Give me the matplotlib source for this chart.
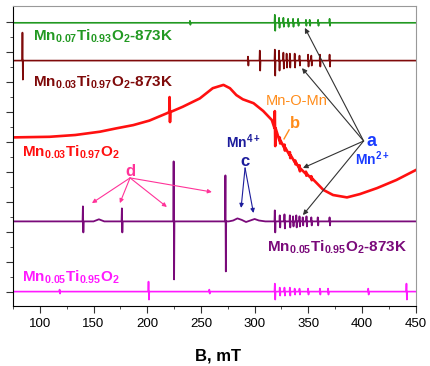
import numpy as np
import matplotlib
matplotlib.use('Agg')
import matplotlib.pyplot as plt

plt.rcParams['font.family'] = 'Liberation Sans'
plt.rcParams['mathtext.fontset'] = 'custom'
plt.rcParams['mathtext.rm'] = 'Liberation Sans'
plt.rcParams['mathtext.bf'] = 'Liberation Sans:bold'

# field range, mT
B_range = [75, 450]

# baselines of the flat spectra (arb. units, offset)
green_base = 9.44
darkred_base = 8.18
purple_base = 2.82
magenta_base = 0.48

# broad signal of Mn0.03Ti0.97O2
red_B = [75, 109, 133, 156, 171, 187, 202, 218, 233, 249, 261, 271, 277, 283, 289,
         299, 308, 316, 324, 333, 342, 355, 364, 373, 386, 398, 414, 432, 450]
red_I = [5.62, 5.64, 5.70, 5.81, 5.92, 6.03, 6.18, 6.42, 6.64, 6.92, 7.26, 7.37, 7.26, 7.03, 6.89,
         6.76, 6.50, 6.20, 5.48, 5.03, 4.59, 4.20, 3.87, 3.70, 3.62, 3.73, 3.93, 4.20, 4.53]

# small broad wiggles (c, Mn4+) on the purple trace
purple_B = [75, 150, 155, 160, 276, 280, 284, 288, 292, 296, 300, 304, 310, 450]
purple_dI = [0, 0, 0.07, 0, 0, 0.03, 0.10, 0.05, -0.02, 0.03, 0.08, 0.03, 0, 0]

# sharp lines: (field mT, up, down) in pixels of the original
green_lines = [(240, 2, 2), (319, 8, 8), (323, 5, 5), (327, 5, 4), (331.4, 4, 4), (336, 4, 4),
               (340.7, 4, 3), (348, 3, 3), (351.5, 3, 3), (359.3, 3, 3), (370, 4, 3)]
darkred_lines = [(84, 28, 19), (294, 4, 5), (305, 10, 10), (319, 11, 15), (323, 10, 10), (327, 8, 8),
                 (330, 7, 7), (333, 7, 7), (337.5, 7, 7), (342, 5, 5), (350, 6, 6), (353, 5, 5),
                 (361, 6, 6), (370, 6, 6)]
red_lines = [(221, 15, 10), (319, 17, 18), (323.6, 3, 3), (328, 3, 3), (333, 3, 3), (338, 2, 2),
             (342, 3, 3), (348, 2, 2), (353, 2, 2)]
purple_lines = [(140.3, 15, 11), (176.6, 13, 11), (224.8, 60, 58), (273, 46, 50), (319, 11, 11),
                (323.6, 6, 6), (328, 7, 7), (333, 6, 6), (336, 5, 5), (339, 6, 6), (342, 5, 5),
                (345, 4, 4), (348.5, 5, 5), (353, 4, 4), (359, 4, 4), (370, 4, 4)]
magenta_lines = [(118.6, 2, 2), (201.4, 10, 8), (258, 2, 2), (319, 8, 8), (323.6, 4, 4), (328, 4, 4),
                 (333, 4, 4), (337.5, 3, 3), (342, 3, 3), (350, 3, 3), (361, 3, 3), (368.6, 3, 3),
                 (406, 3, 3), (441.6, 8, 8)]

px = 30.0  # pixels per intensity unit


def trace(bx, by, lines):
    # put derivative-like spikes on top of a base curve
    pts = list(zip(bx, by))
    for pos, up, dn in lines:
        b = np.interp(pos, bx, by)
        pts += [(pos - 0.5, b), (pos - 0.2, b + up / px), (pos + 0.2, b - dn / px), (pos + 0.5, b)]
    pts.sort(key=lambda p: p[0])
    return [p[0] for p in pts], [p[1] for p in pts]


fig = plt.figure(figsize=(4.31, 3.66), dpi=100)
ax = fig.add_axes([13 / 431, 60 / 366, 402.7 / 431, 300 / 366])

x, y = trace(B_range, [green_base] * 2, green_lines)
ax.plot(x, y, color='#229922', lw=1.2)
x, y = trace(B_range, [darkred_base] * 2, darkred_lines)
ax.plot(x, y, color='#7f0a0a', lw=1.2)
x, y = trace(red_B, red_I, red_lines)
ax.plot(x, y, color='#ff1010', lw=1.9)
x, y = trace(purple_B, [purple_base + d for d in purple_dI], purple_lines)
ax.plot(x, y, color='#7a0a7a', lw=1.3)
x, y = trace(B_range, [magenta_base] * 2, magenta_lines)
ax.plot(x, y, color='#ff1aff', lw=1.2)

# sample labels
fs = 11
ax.text(93.5, 8.84, r'$\mathbf{Mn_{0.07}Ti_{0.93}O_2}$-873K', color='#229922', fontsize=fs, fontweight='bold')
ax.text(93.5, 7.30, r'$\mathbf{Mn_{0.03}Ti_{0.97}O_2}$-873K', color='#7f0a0a', fontsize=fs, fontweight='bold')
ax.text(83.2, 4.97, r'$\mathbf{Mn_{0.03}Ti_{0.97}O_2}$', color='#ff1010', fontsize=fs, fontweight='bold')
ax.text(311.5, 1.80, r'$\mathbf{Mn_{0.05}Ti_{0.95}O_2}$-873K', color='#7a0a7a', fontsize=fs, fontweight='bold')
ax.text(83.2, 0.80, r'$\mathbf{Mn_{0.05}Ti_{0.95}O_2}$', color='#ff1aff', fontsize=fs, fontweight='bold')

# a: Mn2+ hyperfine
ax.text(408.4, 5.5, 'a', color='#1a3cff', fontsize=13, fontweight='bold', ha='center', va='center')
ax.text(409.5, 4.9, r'$\mathbf{Mn^{2+}}$', color='#1a3cff', fontsize=10, ha='center', va='center')
for tx, ty in [(346.8, 9.27), (344.1, 7.93), (345.0, 4.60), (345.0, 3.03)]:
    ax.annotate('', xy=(tx, ty), xytext=(401.5, 5.5),
                arrowprops=dict(arrowstyle='-|>', color='#333333', lw=0.8, mutation_scale=7, shrinkA=0, shrinkB=0))

# b: Mn-O-Mn
ax.text(339.6, 6.83, 'Mn-O-Mn', color='#ff8c1a', fontsize=10.5, ha='center', va='center')
ax.text(337.6, 6.10, 'b', color='#ff8c1a', fontsize=12, fontweight='bold', ha='center', va='center')
ax.plot([332.1, 327.4], [5.87, 5.57], color='#ff8c1a', lw=1)

# c: Mn4+
ax.text(289.3, 5.47, r'$\mathbf{Mn^{4+}}$', color='#1c1c9c', fontsize=10, ha='center', va='center')
ax.text(291.1, 4.83, 'c', color='#1c1c9c', fontsize=12, fontweight='bold', ha='center', va='center')
for tx, ty in [(287.4, 3.27), (298.9, 3.10)]:
    ax.annotate('', xy=(tx, ty), xytext=(291.1, 4.6),
                arrowprops=dict(arrowstyle='-|>', color='#1c1c9c', lw=0.8, mutation_scale=6, shrinkA=0, shrinkB=0))

# d
ax.text(184, 4.5, 'd', color='#ff3399', fontsize=12, fontweight='bold', ha='center', va='center')
for tx, ty in [(148.5, 3.43), (174.5, 3.43), (218.3, 3.30), (260.2, 3.80)]:
    ax.annotate('', xy=(tx, ty), xytext=(184, 4.27),
                arrowprops=dict(arrowstyle='-|>', color='#ff3399', lw=0.8, mutation_scale=6, shrinkA=0, shrinkB=0))

ax.set_xlim(B_range)
ax.set_ylim(0, 10)
ax.set_xticks(np.arange(100, 451, 50))
ax.set_xticks(np.arange(75, 451, 25), minor=True)
ax.set_yticks(np.arange(0.47, 9.6, 1))
ax.set_yticks(np.arange(0.97, 9.6, 1), minor=True)
ax.set_yticklabels([])
ax.tick_params(which='both', direction='out', labelsize=9.5, color='#333333')
ax.tick_params(which='major', length=5)
ax.tick_params(which='minor', length=2.5)
for s in ['top', 'right']:
    ax.spines[s].set_color('#999999')
ax.set_xlabel('B, mT', fontsize=12, fontweight='bold')
ax.xaxis.set_label_coords(0.508, -0.142)

plt.savefig('out.png', dpi=100)
